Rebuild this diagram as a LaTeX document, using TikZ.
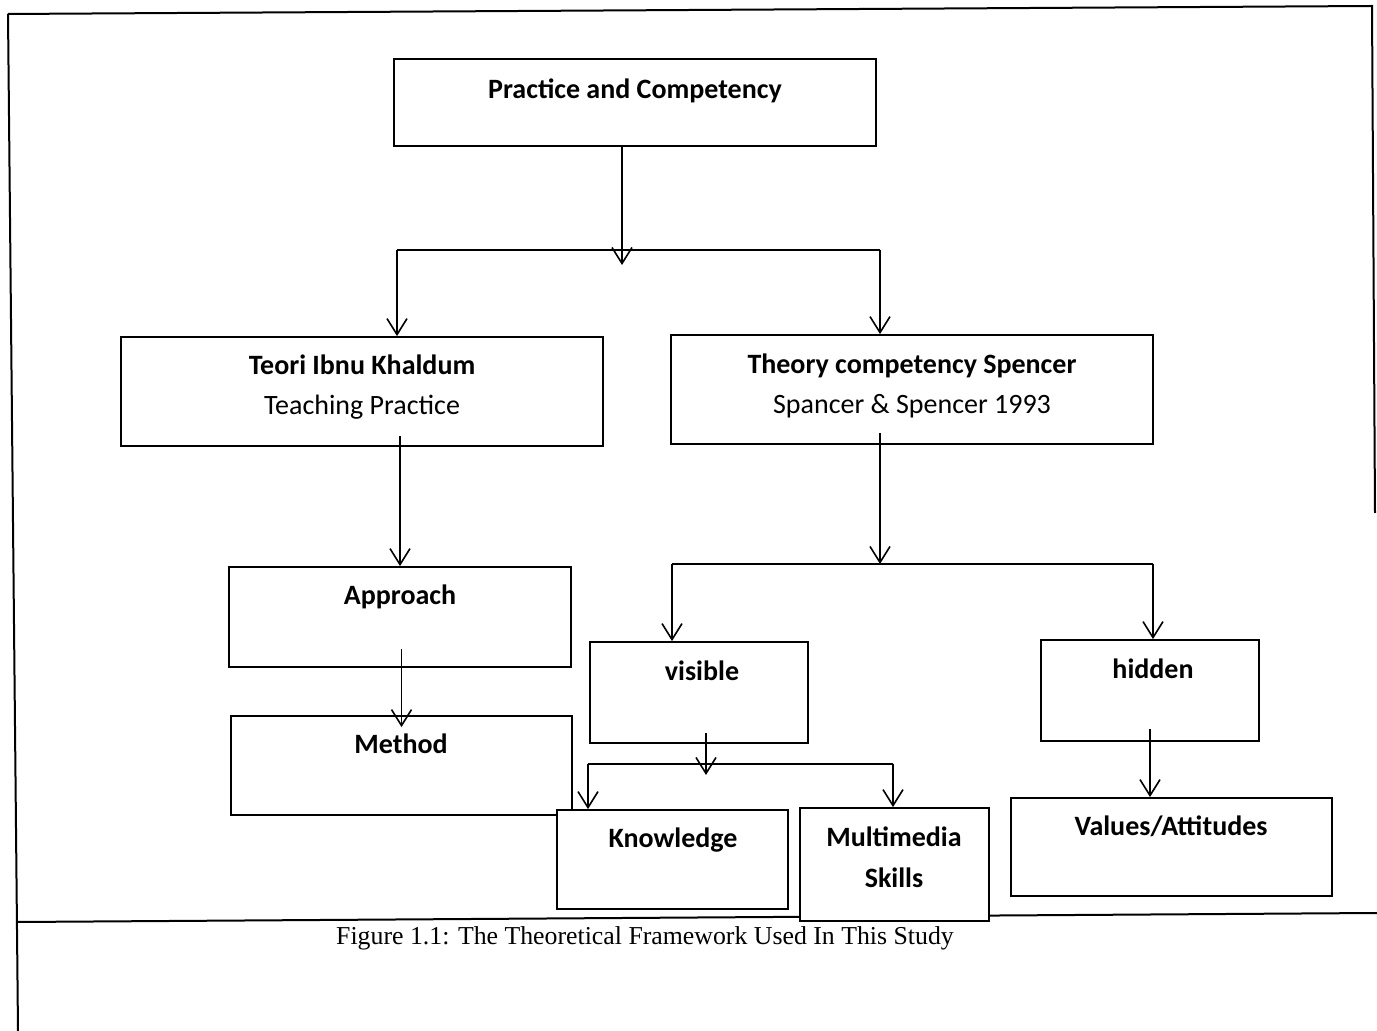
\documentclass[tikz,border=0pt]{standalone}
\usepackage{fontspec}
\setmainfont{Carlito}
\newfontfamily\capfont{Liberation Serif}
\usetikzlibrary{arrows.meta}
\tikzset{
  box/.style={draw, fill=white, line width=0.9pt, inner sep=0pt},
  frame/.style={draw, line width=1pt},
  link/.style={draw, line width=0.8pt},
  arr/.style={link, -{Straight Barb[length=8pt,width=10pt,line width=0.8pt]}},
  labb/.style={font=\fontsize{14}{17}\selectfont\bfseries, inner sep=0pt, anchor=base},
  labr/.style={font=\fontsize{14}{17}\selectfont, inner sep=0pt, anchor=base},
  captext/.style={font=\capfont\fontsize{12.9}{15}\selectfont, inner sep=0pt, anchor=base}
}

\begin{document}
\begin{tikzpicture}[x=0.5pt,y=-0.5pt]
  \useasboundingbox (0,0) rectangle (1377,1031);

  % page frame and caption rule
  \draw[frame] (8,14) -- (1372,6) -- (1375,513);
  \draw[frame] (8,14) -- (18,1031);
  \draw[frame] (18,922) -- (1377,913);

  % boxes
  \node[box, minimum width=241pt, minimum height=43.5pt] (pc) at (635,102.5) {};
  \node[box, minimum width=241pt, minimum height=54.5pt] (A) at (362,391.5) {};
  \node[box, minimum width=241pt, minimum height=54.5pt] (B) at (912,389.5) {};
  \node[box, minimum width=171pt, minimum height=50pt] (ap) at (400,617) {};
  \node[box, minimum width=170.5pt, minimum height=49.5pt] (me) at (401.5,765.5) {};
  \node[box, minimum width=109pt, minimum height=50.5pt] (vi) at (699,692.5) {};
  \node[box, minimum width=109pt, minimum height=50.5pt] (hi) at (1150,690.5) {};
  \node[box, minimum width=115.5pt, minimum height=49.5pt] (kn) at (672.5,859.5) {};
  \node[box, minimum width=94.5pt, minimum height=56.5pt] (mm) at (894.5,864.5) {};
  \node[box, minimum width=160.5pt, minimum height=49pt] (va) at (1171.5,847) {};

  % texts
  \node[labb] (pcT) at (635,99) {Practice and Competency};
  \node[labb] (A1) at (362,375) {Teori Ibnu Khaldum};
  \node[labr] (A2) at (362,415) {Teaching Practice};
  \node[labb] (B1) at (912,374) {Theory competency Spencer};
  \node[labr] (B2) at (912,414) {Spancer \& Spencer 1993};
  \node[labb] (apT) at (400,605) {Approach};
  \node[labb] (meT) at (401,754) {Method};
  \node[labb] (viT) at (702,681) {visible};
  \node[labb] (hiT) at (1153,679) {hidden};
  \node[labb] (knT) at (673,848) {Knowledge};
  \node[labb] (mm1) at (894,847) {Multimedia};
  \node[labb] (mm2) at (894,887) {Skills};
  \node[labb] (vaT) at (1171,835) {Values/Attitudes};
  \node[captext] (capT) at (645,944) {Figure 1.1: The Theoretical Framework Used In This Study};

  % forks
  \coordinate (f1) at (622,250);
  \coordinate (f1L) at (397,250);
  \coordinate (f1R) at (880,250);
  \coordinate (f2) at (880,564);
  \coordinate (f2L) at (672,564);
  \coordinate (f2R) at (1153,564);
  \coordinate (f3) at (706,764);
  \coordinate (f3L) at (588,764);
  \coordinate (f3R) at (893,764);

  \draw[arr] (pc.south -| f1) -- ([yshift=-7.5pt]f1);
  \draw[link] (f1L) -- (f1R);
  \draw[arr] (f1L) -- (f1L |- A.north);
  \draw[arr] (f1R) -- (f1R |- B.north);

  \draw[arr] (ap.north |- A.south) ++(0,-11) -- (ap.north);
  \draw[arr] (me.north |- ap.south) ++(0,-19) -- ([yshift=-6pt]me.north);

  \draw[arr] (f2 |- B.south) ++(0,-12) -- (f2);
  \draw[link] (f2L) -- (f2R);
  \draw[arr] (f2L) -- (f2L |- vi.north);
  \draw[arr] (f2R) -- (f2R |- hi.north);

  \draw[arr] (f3 |- vi.south) ++(0,-11) -- ([yshift=-5.5pt]f3);
  \draw[link] (f3L) -- (f3R);
  \draw[arr] (f3L) -- (f3L |- kn.north);
  \draw[arr] (f3R) -- (f3R |- mm.north);

  \draw[arr] (hi.south) ++(0,-13) -- (hi.south |- va.north);
\end{tikzpicture}
\end{document}
